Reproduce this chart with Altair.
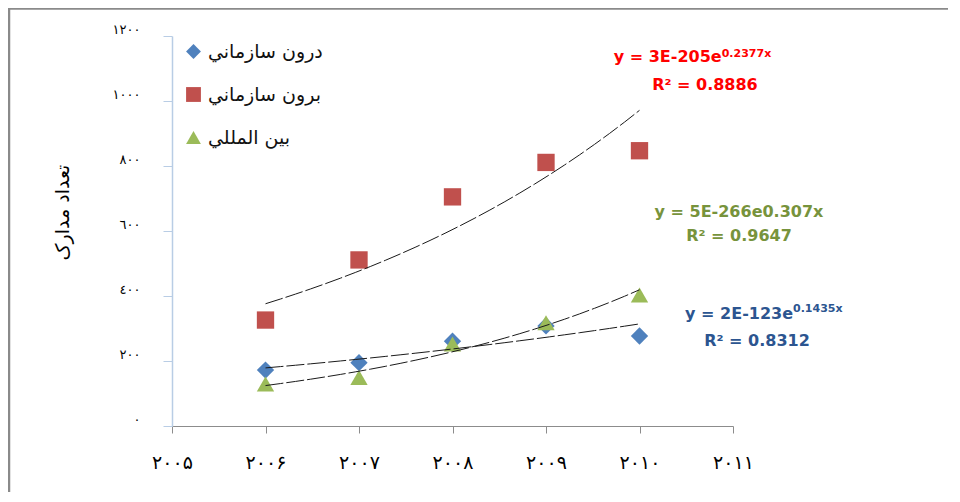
import json
import altair as alt
import pandas as pd

# ---------------- data ----------------
years = [2006, 2007, 2008, 2009, 2010]
series_names = ["درون سازماني", "برون سازماني", "بين المللي"]
internal = [172, 195, 261, 308, 277]
external = [326, 511, 705, 811, 847]
international = [129, 149, 252, 318, 403]
marker_colors = ["#4f81bd", "#c0504d", "#9bbb59"]
marker_shapes = ["diamond", "square", "triangle-up"]
x_tick_values = [2005, 2006, 2007, 2008, 2009, 2010, 2011]
x_tick_labels = ["۲۰۰۵", "۲۰۰۶", "۲۰۰۷", "۲۰۰۸", "۲۰۰۹", "۲۰۱۰", "۲۰۱۱"]
y_tick_values = [0, 200, 400, 600, 800, 1000, 1200]
y_tick_labels = ["٠", "٢٠٠", "٤٠٠", "٦٠٠", "٨٠٠", "١٠٠٠", "١٢٠٠"]
y_title = "تعداد مدارک"

red_eq_main, red_eq_sup, red_r2 = "y = 3E-205e", "0.2377x", "R² = 0.8886"
green_eq, green_r2 = "y = 5E-266e0.307x", "R² = 0.9647"
blue_eq_main, blue_eq_sup, blue_r2 = "y = 2E-123e", "0.1435x", "R² = 0.8312"

rows = []
for name, vals in zip(series_names, [internal, external, international]):
    for yr, v in zip(years, vals):
        rows.append({"year": yr, "value": v, "series": name})
df = pd.DataFrame(rows)

FONT = "DejaVu Sans"
x_expr = json.dumps(x_tick_labels, ensure_ascii=False) + "[round(datum.value - 2005)]"
y_expr = json.dumps(y_tick_labels, ensure_ascii=False) + "[round(datum.value / 200)]"

x_scale = alt.Scale(domain=[2005, 2011], nice=False, zero=False)
y_scale = alt.Scale(domain=[0, 1200], nice=False)

x_axis = alt.Axis(
    values=x_tick_values, labelExpr=x_expr, title=None, grid=False,
    domainColor="#8c8c8c", tickColor="#8c8c8c", tickSize=7,
    labelFont=FONT, labelFontSize=19, labelColor="#000000",
    labelPadding=20, labelFlush=False, labelOverlap=False,
)
y_axis = alt.Axis(
    values=y_tick_values, labelExpr=y_expr, grid=False,
    domainColor="#b9cde5", tickColor="#b9cde5", tickSize=9, domainWidth=1.5,
    labelFont=FONT, labelFontSize=13, labelColor="#000000",
    labelPadding=23, labelBaseline="alphabetic", labelOffset=-3,
    title=y_title, titleFont=FONT, titleFontSize=19, titleFontWeight="normal",
    titleColor="#000000", titleAngle=270, titleX=-110, titleY=176,
    titleBaseline="middle", titleAlign="center",
)

legend = alt.Legend(
    title=None, orient="none", legendX=12, legendY=6, direction="vertical",
    symbolSize=220, symbolStrokeWidth=0, symbolOpacity=1,
    labelFont=FONT, labelFontSize=19, labelColor="#111111",
    rowPadding=23, labelOffset=5, padding=0,
)

base = alt.Chart(df)

points = base.mark_point(filled=True, size=300, opacity=1).encode(
    x=alt.X("year:Q", scale=x_scale, axis=x_axis),
    y=alt.Y("value:Q", scale=y_scale, axis=y_axis),
    color=alt.Color("series:N", scale=alt.Scale(domain=series_names, range=marker_colors), legend=legend),
    shape=alt.Shape("series:N", scale=alt.Scale(domain=series_names, range=marker_shapes), legend=legend),
)

trend = (
    base.transform_calculate(ly="log(datum.value)")
    .transform_regression("year", "ly", method="poly", order=1, groupby=["series"])
    .transform_calculate(tv="exp(datum.ly)")
    .mark_line(color="#1a1a1a", strokeWidth=1, strokeDash=[18, 3])
    .encode(
        x=alt.X("year:Q"),
        y=alt.Y("tv:Q", title=y_title),
        detail="series:N",
    )
)

one = alt.Data(values=[{}])


def note(text, xv, yv, color, size, align):
    return alt.Chart(one).mark_text(
        font=FONT, fontWeight="bold", fontSize=size, color=color,
        align=align, baseline="alphabetic",
    ).encode(x=alt.datum(xv), y=alt.datum(yv), text=alt.value(text))


RED, GREEN, BLUE = "#ff0000", "#77933c", "#2c5590"
notes = [
    note(red_eq_main, 2010.879, 1120, RED, 16, "right"),
    note(red_eq_sup, 2010.879, 1136, RED, 11, "left"),
    note(red_r2, 2010.70, 1034, RED, 16, "center"),
    note(green_eq, 2011.064, 642, GREEN, 16, "center"),
    note(green_r2, 2011.064, 570, GREEN, 16, "center"),
    note(blue_eq_main, 2011.642, 328, BLUE, 16, "right"),
    note(blue_eq_sup, 2011.642, 352, BLUE, 11, "left"),
    note(blue_r2, 2011.257, 246, BLUE, 16, "center"),
]

frame_left = alt.Chart(one).mark_rule(color="#8a8a8a", strokeWidth=2.5).encode(
    x=alt.value(-163), y=alt.value(-30), y2=alt.value(500)
)
frame_top = alt.Chart(one).mark_rule(color="#8a8a8a", strokeWidth=2.5).encode(
    x=alt.value(-164), x2=alt.value(790), y=alt.value(-27.5)
)

chart = alt.layer(points, trend, *notes, frame_left, frame_top).properties(
    width=561, height=390,
    padding={"left": 164, "top": 28, "right": 215, "bottom": 66},
    autosize="none",
    background="#ffffff",
).configure_view(stroke=None)

chart.save("out.html", embed_options={"renderer": "svg", "actions": False})
